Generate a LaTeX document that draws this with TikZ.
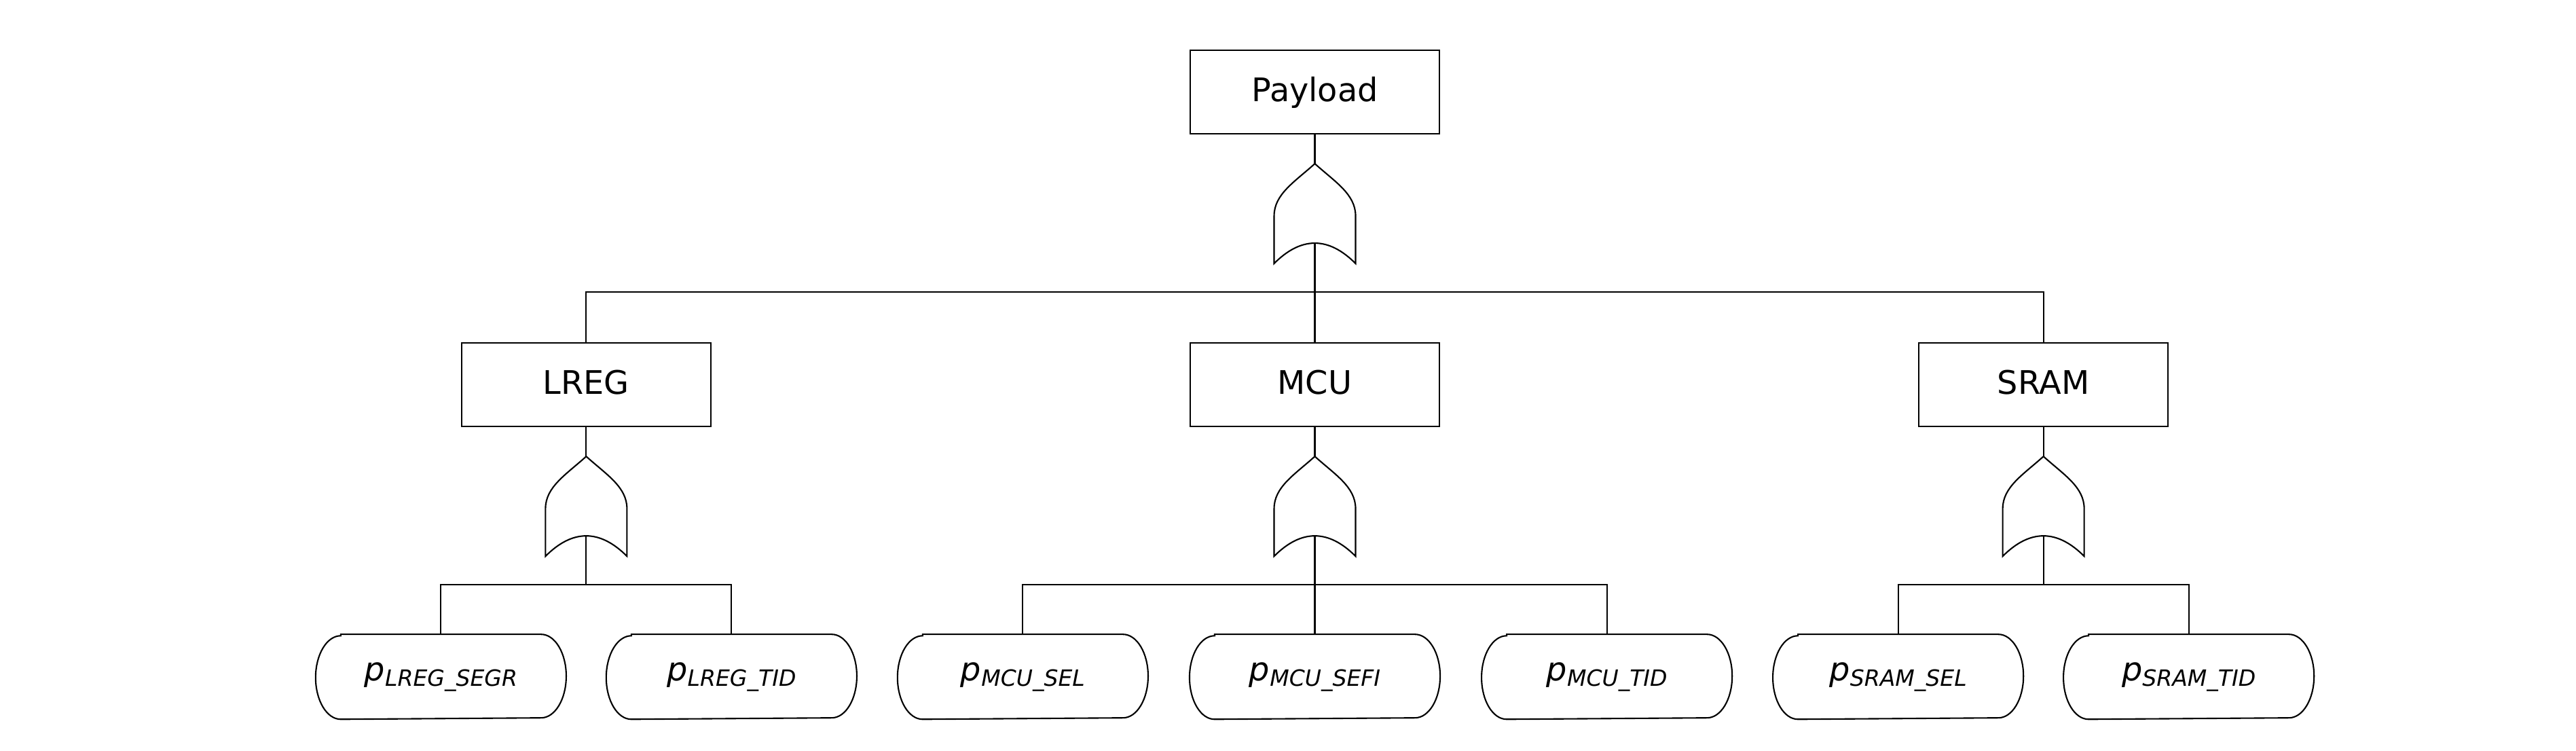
\documentclass[tikz,border=0pt]{standalone}
\usepackage{fontspec}
\setmainfont{DejaVu Sans}
\usepackage{tikz}
\usetikzlibrary{positioning}

\newcommand{\psub}[1]{\textit{p}\raisebox{-2.3pt}{\fontsize{9.4}{11}\selectfont\itshape #1}}

\tikzset{
    orgate/.pic={
        \draw (0,0) .. controls (-0.3,-0.27) and (-0.6,-0.45) .. (-0.6,-0.77) -- (-0.6,-1.47)
            .. controls (-0.2,-1.07) and (0.2,-1.07) .. (0.6,-1.47) -- (0.6,-0.77)
            .. controls (0.6,-0.45) and (0.3,-0.27) .. (0,0) -- cycle;
        \coordinate (-in) at (0,0);
        \coordinate (-out) at (0,-1.17);
    }
}

\begin{document}
\begin{tikzpicture}[
    line width=0.6pt,
    box/.style={rectangle, draw, minimum width=3.67cm, minimum height=1.23cm, inner sep=0pt, font=\fontsize{13.6}{16}\selectfont, text height=10.5pt, text depth=2.5pt},
    leaf/.style={rectangle, minimum width=3.67cm, minimum height=1.23cm, inner sep=0pt, font=\fontsize{13.6}{16}\selectfont}
]
\useasboundingbox (0,0) rectangle (37.94,-11.05);

% top event
\node[box] (payload) at (19.365,-1.355) {Payload};
\pic (g0) at ([yshift=-0.43cm]payload.south) {orgate};

% subsystems
\node[box, below=3.06cm of payload] (mcu) {MCU};
\node[box, left=7.04cm of mcu] (lreg) {LREG};
\node[box, right=7.04cm of mcu] (sram) {SRAM};

\pic (g1) at ([yshift=-0.43cm]lreg.south) {orgate};
\pic (g2) at ([yshift=-0.43cm]mcu.south) {orgate};
\pic (g3) at ([yshift=-0.43cm]sram.south) {orgate};

% basic events
\node[leaf, below=3.05cm of lreg, xshift=-2.14cm] (lsegr) {\psub{LREG\_SEGR}};
\node[leaf, below=3.05cm of lreg, xshift=2.14cm] (ltid) {\psub{LREG\_TID}};
\node[leaf, below=3.05cm of mcu] (msefi) {\psub{MCU\_SEFI}};
\node[leaf, left=0.61cm of msefi] (msel) {\psub{MCU\_SEL}};
\node[leaf, right=0.61cm of msefi] (mtid) {\psub{MCU\_TID}};
\node[leaf, below=3.05cm of sram, xshift=-2.14cm] (ssel) {\psub{SRAM\_SEL}};
\node[leaf, below=3.05cm of sram, xshift=2.14cm] (stid) {\psub{SRAM\_TID}};

\foreach \n in {lsegr,ltid,msel,msefi,mtid,ssel,stid}
    \draw ([xshift=0.37cm]\n.north west) -- ([xshift=-0.37cm]\n.north east)
        arc[start angle=90, end angle=-90, x radius=0.37cm, y radius=0.615cm]
        -- ([xshift=0.37cm]\n.south west)
        arc[start angle=270, end angle=90, x radius=0.37cm, y radius=0.615cm] -- cycle;

% connections
\draw (payload) -- (g0-in);
\coordinate[below=0.72cm of g0-out] (b0);
\draw (g0-out) -- (b0);
\draw (lreg.north) |- (b0) -| (sram.north);
\draw (b0) -- (mcu.north);

\draw (lreg) -- (g1-in);
\coordinate[below=0.72cm of g1-out] (b1);
\draw (g1-out) -- (b1);
\draw (lsegr.north) |- (b1) -| (ltid.north);

\draw (mcu) -- (g2-in);
\coordinate[below=0.72cm of g2-out] (b2);
\draw (g2-out) -- (b2);
\draw (msel.north) |- (b2) -| (mtid.north);
\draw (b2) -- (msefi.north);

\draw (sram) -- (g3-in);
\coordinate[below=0.72cm of g3-out] (b3);
\draw (g3-out) -- (b3);
\draw (ssel.north) |- (b3) -| (stid.north);

\end{tikzpicture}
\end{document}
